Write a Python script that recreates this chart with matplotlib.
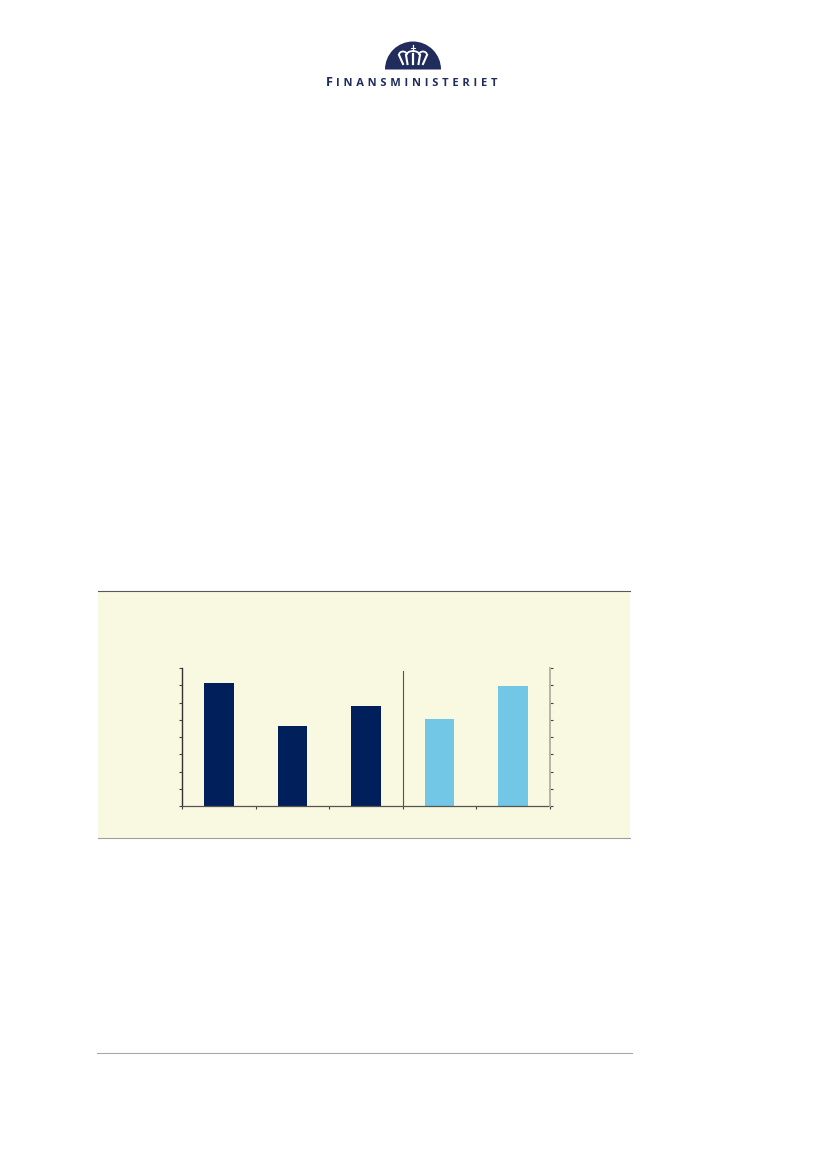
import matplotlib
matplotlib.use("Agg")
import matplotlib.pyplot as plt
from matplotlib.patches import Rectangle, Wedge, Arc

# values, one unit = one tick step
positions_left = [0, 1, 2]
values_left = [7.13, 4.63, 5.82]
positions_right = [3, 4]
values_right = [5.05, 6.96]
y_ticks = [0, 1, 2, 3, 4, 5, 6, 7, 8]
x_edges = [-0.5, 0.5, 1.5, 2.5, 3.5, 4.5]

NAVY = "#001F5B"
LIGHT = "#73C7E6"
PANEL = "#F9F8E1"
LOGO = "#1F2C5C"
W, H = 827, 1169

fig = plt.figure(figsize=(W / 100, H / 100), dpi=100, facecolor="white")

# page layer in pixels
page = fig.add_axes([0, 0, 1, 1])
page.set_xlim(0, W)
page.set_ylim(H, 0)
page.axis("off")

page.add_patch(Rectangle((98, 591), 532, 247, facecolor=PANEL, edgecolor="none"))
page.plot([98, 630], [591, 591], color="#5A5A55", lw=0.8)
page.plot([98, 630], [838, 838], color="#A0A098", lw=0.8)
page.plot([97, 632], [1053, 1053], color="#A8A8A8", lw=0.8)

# logo: dome, crown and cross
page.add_patch(Wedge((413, 69.5), 28, 180, 360, facecolor=LOGO, edgecolor="none"))
for x0, x1 in [(403, 399), (407.5, 406), (418.5, 420), (423, 427)]:
    page.plot([x0, x1], [64, 55], color="white", lw=1.5)
page.plot([413, 413], [64, 54], color="white", lw=1.6)
page.add_patch(Arc((403, 55), 8, 7, theta1=180, theta2=360, color="white", lw=1.3))
page.add_patch(Arc((423, 55), 8, 7, theta1=180, theta2=360, color="white", lw=1.3))
page.add_patch(Arc((413, 56), 14, 10, theta1=200, theta2=340, color="white", lw=1.3))
page.plot([413, 413], [45, 51], color="white", lw=0.9)
page.plot([411, 415], [47.5, 47.5], color="white", lw=0.7)
page.text(326, 86, "F", fontsize=9.2, color=LOGO, family="Open Sans",
          fontweight="bold", ha="left", va="baseline")
page.text(336.5, 86, "\u2004".join("INANSMINISTERIET"), fontsize=8.05, color=LOGO,
          family="Open Sans", fontweight="bold", ha="left", va="baseline")

# chart
ax = fig.add_axes([182 / W, 1 - 806 / H, 368 / W, 138 / H])
ax.patch.set_visible(False)
ax.bar(positions_left, values_left, width=0.4, color=NAVY)
ax.bar(positions_right, values_right, width=0.4, color=LIGHT)
ax.axvline(2.5, ymax=0.978, color="#555550", lw=0.8)

ax.set_xlim(x_edges[0], x_edges[-1])
ax.set_ylim(y_ticks[0], y_ticks[-1])
ax.set_xticks(x_edges)
ax.set_yticks(y_ticks)
ax.tick_params(labelbottom=False, labelleft=False, length=2.2, width=0.8, color="#444444")
ax.tick_params(axis="x", length=1.8)
for s in ["top", "right"]:
    ax.spines[s].set_visible(False)
ax.spines["left"].set_linewidth(1.0)
ax.spines["left"].set_color("#333333")
ax.spines["bottom"].set_linewidth(0.9)
ax.spines["bottom"].set_color("#555550")

ax2 = ax.twinx()
ax2.set_ylim(y_ticks[0], y_ticks[-1])
ax2.set_yticks(y_ticks)
ax2.tick_params(labelright=False, length=2.0, width=0.8, color="#444444")
for s in ["top", "left", "bottom"]:
    ax2.spines[s].set_visible(False)
ax2.spines["right"].set_linewidth(1.3)
ax2.spines["right"].set_color("#B0B0A4")

fig.savefig("out.png", dpi=100)
